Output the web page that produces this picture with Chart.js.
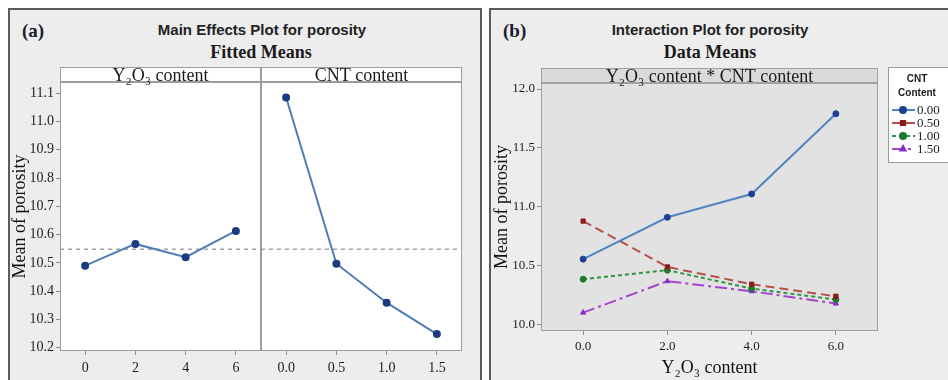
<!DOCTYPE html>
<html>
<head>
<meta charset="utf-8">
<script src="https://cdn.jsdelivr.net/npm/chart.js@4.4.1/dist/chart.umd.min.js"></script>
<style>
  body { margin: 0; background: #fff; width: 948px; height: 380px; overflow: hidden; position: relative; }
  .panel { position: absolute; top: 8px; height: 380px; background: #ededed; border: 2px solid #5c5c5c; box-sizing: border-box; }
  #panelA { left: 8px; width: 474px; }
  #panelB { left: 489px; width: 470px; }
  .tag { position: absolute; font-family: "Liberation Serif", serif; font-weight: bold; font-size: 19px; line-height: 20px; color: #1c1c2c; }
  .head { position: absolute; width: 300px; text-align: center; font-family: "Liberation Sans", Arial, sans-serif; font-weight: bold; font-size: 15px; line-height: 18px; color: #222; }
  .sub { position: absolute; width: 300px; text-align: center; font-family: "Liberation Serif", serif; font-weight: bold; font-size: 18px; line-height: 20px; color: #1a1a1a; }
  canvas { position: absolute; }
</style>
</head>
<body>
<div class="panel" id="panelA"></div>
<div class="panel" id="panelB"></div>

<div class="tag" style="left:22px; top:21px;">(a)</div>
<div class="head" style="left:112px; top:21px;">Main Effects Plot for porosity</div>
<div class="sub" style="left:111px; top:42px;">Fitted Means</div>

<div class="tag" style="left:503px; top:21px;">(b)</div>
<div class="head" style="left:560px; top:21px;">Interaction Plot for porosity</div>
<div class="sub" style="left:560px; top:42px;">Data Means</div>

<canvas id="mainY2o3" width="280" height="320" style="left:0; top:60px;"></canvas>
<canvas id="mainCnt" width="239" height="320" style="left:241px; top:60px;"></canvas>
<canvas id="interaction" width="458" height="320" style="left:490px; top:60px;"></canvas>

<script>
// main effects (fitted means)
const y2o3Levels = [0, 2, 4, 6];
const cntLevels = [0.0, 0.5, 1.0, 1.5];
const mainY2o3Means = [10.49, 10.567, 10.52, 10.613];
const mainCntMeans = [11.085, 10.497, 10.359, 10.248];
const grandMean = 10.548;
const mainYTicks = [10.2, 10.3, 10.4, 10.5, 10.6, 10.7, 10.8, 10.9, 11.0, 11.1];

// interaction (data means), one array per CNT level, ordered by Y2O3 level
const cntLabels = ["0.00", "0.50", "1.00", "1.50"];
const cnt000 = [10.556, 10.911, 11.109, 11.79];
const cnt050 = [10.879, 10.490, 10.343, 10.241];
const cnt100 = [10.386, 10.462, 10.306, 10.213];
const cnt150 = [10.102, 10.369, 10.283, 10.179];
const interXTicks = [0, 2, 4, 6];
const interYTicks = [10.0, 10.5, 11.0, 11.5, 12.0];

const SERIF = '"Liberation Serif", "Times New Roman", serif';
const SANS = '"Liberation Sans", Arial, sans-serif';

function points(xs, ys) {
    return xs.map((x, i) => ({ x: x, y: ys[i] }));
}

function fixedTicks(values) {
    return (scale) => { scale.ticks = values.map((v) => ({ value: v })); };
}

// plot background, strip header and frame around each facet
const facetFrame = {
    id: "facetFrame",
    beforeDraw(chart, args, opts) {
        const { ctx, chartArea: a } = chart;
        ctx.save();
        ctx.fillStyle = opts.plotFill;
        ctx.fillRect(a.left, a.top, a.width, a.bottom - a.top);
        ctx.fillStyle = opts.stripFill;
        ctx.fillRect(a.left, a.top - opts.stripHeight, a.width, opts.stripHeight);
        ctx.restore();
    },
    afterDraw(chart, args, opts) {
        const { ctx, chartArea: a } = chart;
        ctx.save();
        ctx.strokeStyle = opts.lineColor;
        ctx.lineWidth = 1;
        ctx.strokeRect(a.left + 0.5, a.top - opts.stripHeight + 0.5, a.width - 1, a.bottom - a.top + opts.stripHeight - 1);
        ctx.lineWidth = 2;
        ctx.beginPath();
        ctx.moveTo(a.left, a.top);
        ctx.lineTo(a.right, a.top);
        ctx.stroke();
        ctx.fillStyle = "#1a1a1a";
        ctx.font = opts.font;
        ctx.textAlign = "center";
        ctx.textBaseline = "middle";
        ctx.fillText(opts.text, (a.left + a.right) / 2, a.top - opts.stripHeight / 2 + 2);
        ctx.restore();
    }
};

// dashed reference line at the overall mean
const meanLine = {
    id: "meanLine",
    beforeDatasetsDraw(chart, args, opts) {
        if (opts.value == null) return;
        const { ctx, chartArea: a } = chart;
        const y = chart.scales.y.getPixelForValue(opts.value);
        ctx.save();
        ctx.strokeStyle = "#a3a3a3";
        ctx.lineWidth = 1.5;
        ctx.setLineDash([4, 4]);
        ctx.beginPath();
        ctx.moveTo(a.left, y);
        ctx.lineTo(a.right, y);
        ctx.stroke();
        ctx.restore();
    }
};

// boxed legend to the right of the interaction plot
const cntLegend = {
    id: "cntLegend",
    afterDraw(chart, args, opts) {
        if (!opts.show) return;
        const { ctx, chartArea: a } = chart;
        const bx = a.right + 10, by = a.top - 16;
        ctx.save();
        ctx.fillStyle = "#fff";
        ctx.fillRect(bx, by, 62, 96);
        ctx.strokeStyle = "#9a9a9a";
        ctx.lineWidth = 1;
        ctx.strokeRect(bx + 0.5, by + 0.5, 62, 95);
        ctx.fillStyle = "#1a1a1a";
        ctx.font = "bold 10px " + SANS;
        ctx.textAlign = "center";
        ctx.textBaseline = "middle";
        ctx.fillText("CNT", bx + 29, by + 12);
        ctx.fillText("Content", bx + 29, by + 26);
        ctx.font = "13px " + SERIF;
        ctx.textAlign = "left";
        chart.data.datasets.forEach((ds, i) => {
            const y = by + 43 + i * 13;
            ctx.strokeStyle = ds.borderColor;
            ctx.lineWidth = 2;
            ctx.setLineDash(ds.borderDash || []);
            ctx.beginPath();
            ctx.moveTo(bx + 4, y);
            ctx.lineTo(bx + 27, y);
            ctx.stroke();
            ctx.setLineDash([]);
            ctx.fillStyle = ds.pointBackgroundColor;
            ctx.strokeStyle = ds.pointBorderColor;
            Chart.helpers.drawPoint(ctx, { pointStyle: ds.pointStyle, radius: 3, borderWidth: 1, rotation: 0 }, bx + 15, y);
            ctx.fillStyle = "#222";
            ctx.fillText(ds.label, bx + 29, y + 1);
        });
        ctx.restore();
    }
};

Chart.register(facetFrame, meanLine, cntLegend);

const mainLine = {
    borderColor: "#4d7db5",
    borderWidth: 2,
    pointRadius: 3,
    pointBackgroundColor: "#1c3b80",
    pointBorderColor: "#1c3b80",
    tension: 0
};

function mainEffectChart(id, xs, ys, opts) {
    return new Chart(document.getElementById(id), {
        type: "line",
        data: { datasets: [Object.assign({ data: points(xs, ys) }, mainLine)] },
        options: {
            responsive: false,
            animation: false,
            layout: { padding: { top: 22, right: opts.padRight, left: opts.padLeft, bottom: 0 } },
            plugins: {
                legend: { display: false },
                tooltip: { enabled: false },
                facetFrame: { text: opts.strip, stripHeight: 15, plotFill: "#fff", stripFill: "#fff", lineColor: "#9c9c9c", font: "18px " + SERIF },
                meanLine: { value: grandMean },
                cntLegend: { show: false }
            },
            scales: {
                x: {
                    type: "linear",
                    min: opts.xMin,
                    max: opts.xMax,
                    afterBuildTicks: fixedTicks(xs),
                    afterFit: (s) => { s.height = 29; },
                    grid: { drawOnChartArea: false, tickLength: 4, color: "#8c8c8c" },
                    border: { display: false },
                    ticks: {
                        padding: 5,
                        color: "#1c1c1c",
                        font: { family: SERIF, size: 14 },
                        callback: (v) => v.toFixed(opts.digits)
                    }
                },
                y: {
                    display: opts.showY,
                    min: 10.188,
                    max: 11.14,
                    afterBuildTicks: fixedTicks(mainYTicks),
                    afterFit: (s) => { s.width = opts.showY ? 60 : 0; },
                    grid: { drawOnChartArea: false, tickLength: 4, color: "#8c8c8c" },
                    border: { display: false },
                    ticks: {
                        padding: 2,
                        color: "#1c1c1c",
                        font: { family: SERIF, size: 14 },
                        callback: (v) => v.toFixed(1)
                    },
                    title: {
                        display: true,
                        text: "Mean of porosity",
                        color: "#111",
                        font: { family: SERIF, size: 18 },
                        padding: { top: 9, bottom: 0 }
                    }
                }
            }
        }
    });
}

mainEffectChart("mainY2o3", y2o3Levels, mainY2o3Means, {
    strip: "Y\u2082O\u2083 content", xMin: -1, xMax: 7, digits: 0, padLeft: 0, padRight: 19, showY: true
});
mainEffectChart("mainCnt", cntLevels, mainCntMeans, {
    strip: "CNT content", xMin: -0.25, xMax: 1.75, digits: 1, padLeft: 20, padRight: 18, showY: false
});

new Chart(document.getElementById("interaction"), {
    type: "line",
    data: {
        datasets: [
            {
                label: cntLabels[0], data: points(y2o3Levels, cnt000),
                borderColor: "#5284c2", borderDash: [], pointStyle: "circle",
                pointBackgroundColor: "#1f3f95", pointBorderColor: "#1f3f95"
            },
            {
                label: cntLabels[1], data: points(y2o3Levels, cnt050),
                borderColor: "#b3504a", borderDash: [9, 5], pointStyle: "rect",
                pointBackgroundColor: "#8b1c1c", pointBorderColor: "#8b1c1c"
            },
            {
                label: cntLabels[2], data: points(y2o3Levels, cnt100),
                borderColor: "#329442", borderDash: [4, 3], pointStyle: "circle",
                pointBackgroundColor: "#1d7a2c", pointBorderColor: "#1d7a2c"
            },
            {
                label: cntLabels[3], data: points(y2o3Levels, cnt150),
                borderColor: "#a445cc", borderDash: [12, 4, 3, 4], pointStyle: "triangle",
                pointBackgroundColor: "#8a2bd0", pointBorderColor: "#8a2bd0"
            }
        ]
    },
    options: {
        responsive: false,
        animation: false,
        elements: {
            line: { borderWidth: 2, tension: 0 },
            point: { radius: 3, borderWidth: 1 }
        },
        layout: { padding: { top: 23, right: 70, left: 0, bottom: 0 } },
        plugins: {
            legend: { display: false },
            tooltip: { enabled: false },
            facetFrame: { text: "Y\u2082O\u2083 content * CNT content", stripHeight: 15, plotFill: "#e2e2e2", stripFill: "#dadada", lineColor: "#a2a2a2", font: "18px " + SERIF },
            meanLine: { value: null },
            cntLegend: { show: true }
        },
        scales: {
            x: {
                type: "linear",
                min: -1,
                max: 7,
                afterBuildTicks: fixedTicks(interXTicks),
                afterFit: (s) => { s.height = 49; },
                grid: { drawOnChartArea: false, tickLength: 4, color: "#8c8c8c" },
                border: { display: false },
                ticks: {
                    padding: 4,
                    color: "#1c1c1c",
                    font: { family: SERIF, size: 13 },
                    callback: (v) => v.toFixed(1)
                },
                title: {
                    display: true,
                    text: "Y\u2082O\u2083 content",
                    color: "#111",
                    font: { family: SERIF, size: 18 },
                    padding: { top: 0, bottom: 1 }
                }
            },
            y: {
                min: 9.946,
                max: 12.051,
                afterBuildTicks: fixedTicks(interYTicks),
                afterFit: (s) => { s.width = 51; },
                grid: { drawOnChartArea: false, tickLength: 4, color: "#8c8c8c" },
                border: { display: false },
                ticks: {
                    padding: 2,
                    color: "#1c1c1c",
                    font: { family: SERIF, size: 13 },
                    callback: (v) => v.toFixed(1)
                },
                title: {
                    display: true,
                    text: "Mean of porosity",
                    color: "#111",
                    font: { family: SERIF, size: 18 },
                    padding: { top: 1, bottom: 0 }
                }
            }
        }
    }
});
</script>
</body>
</html>
